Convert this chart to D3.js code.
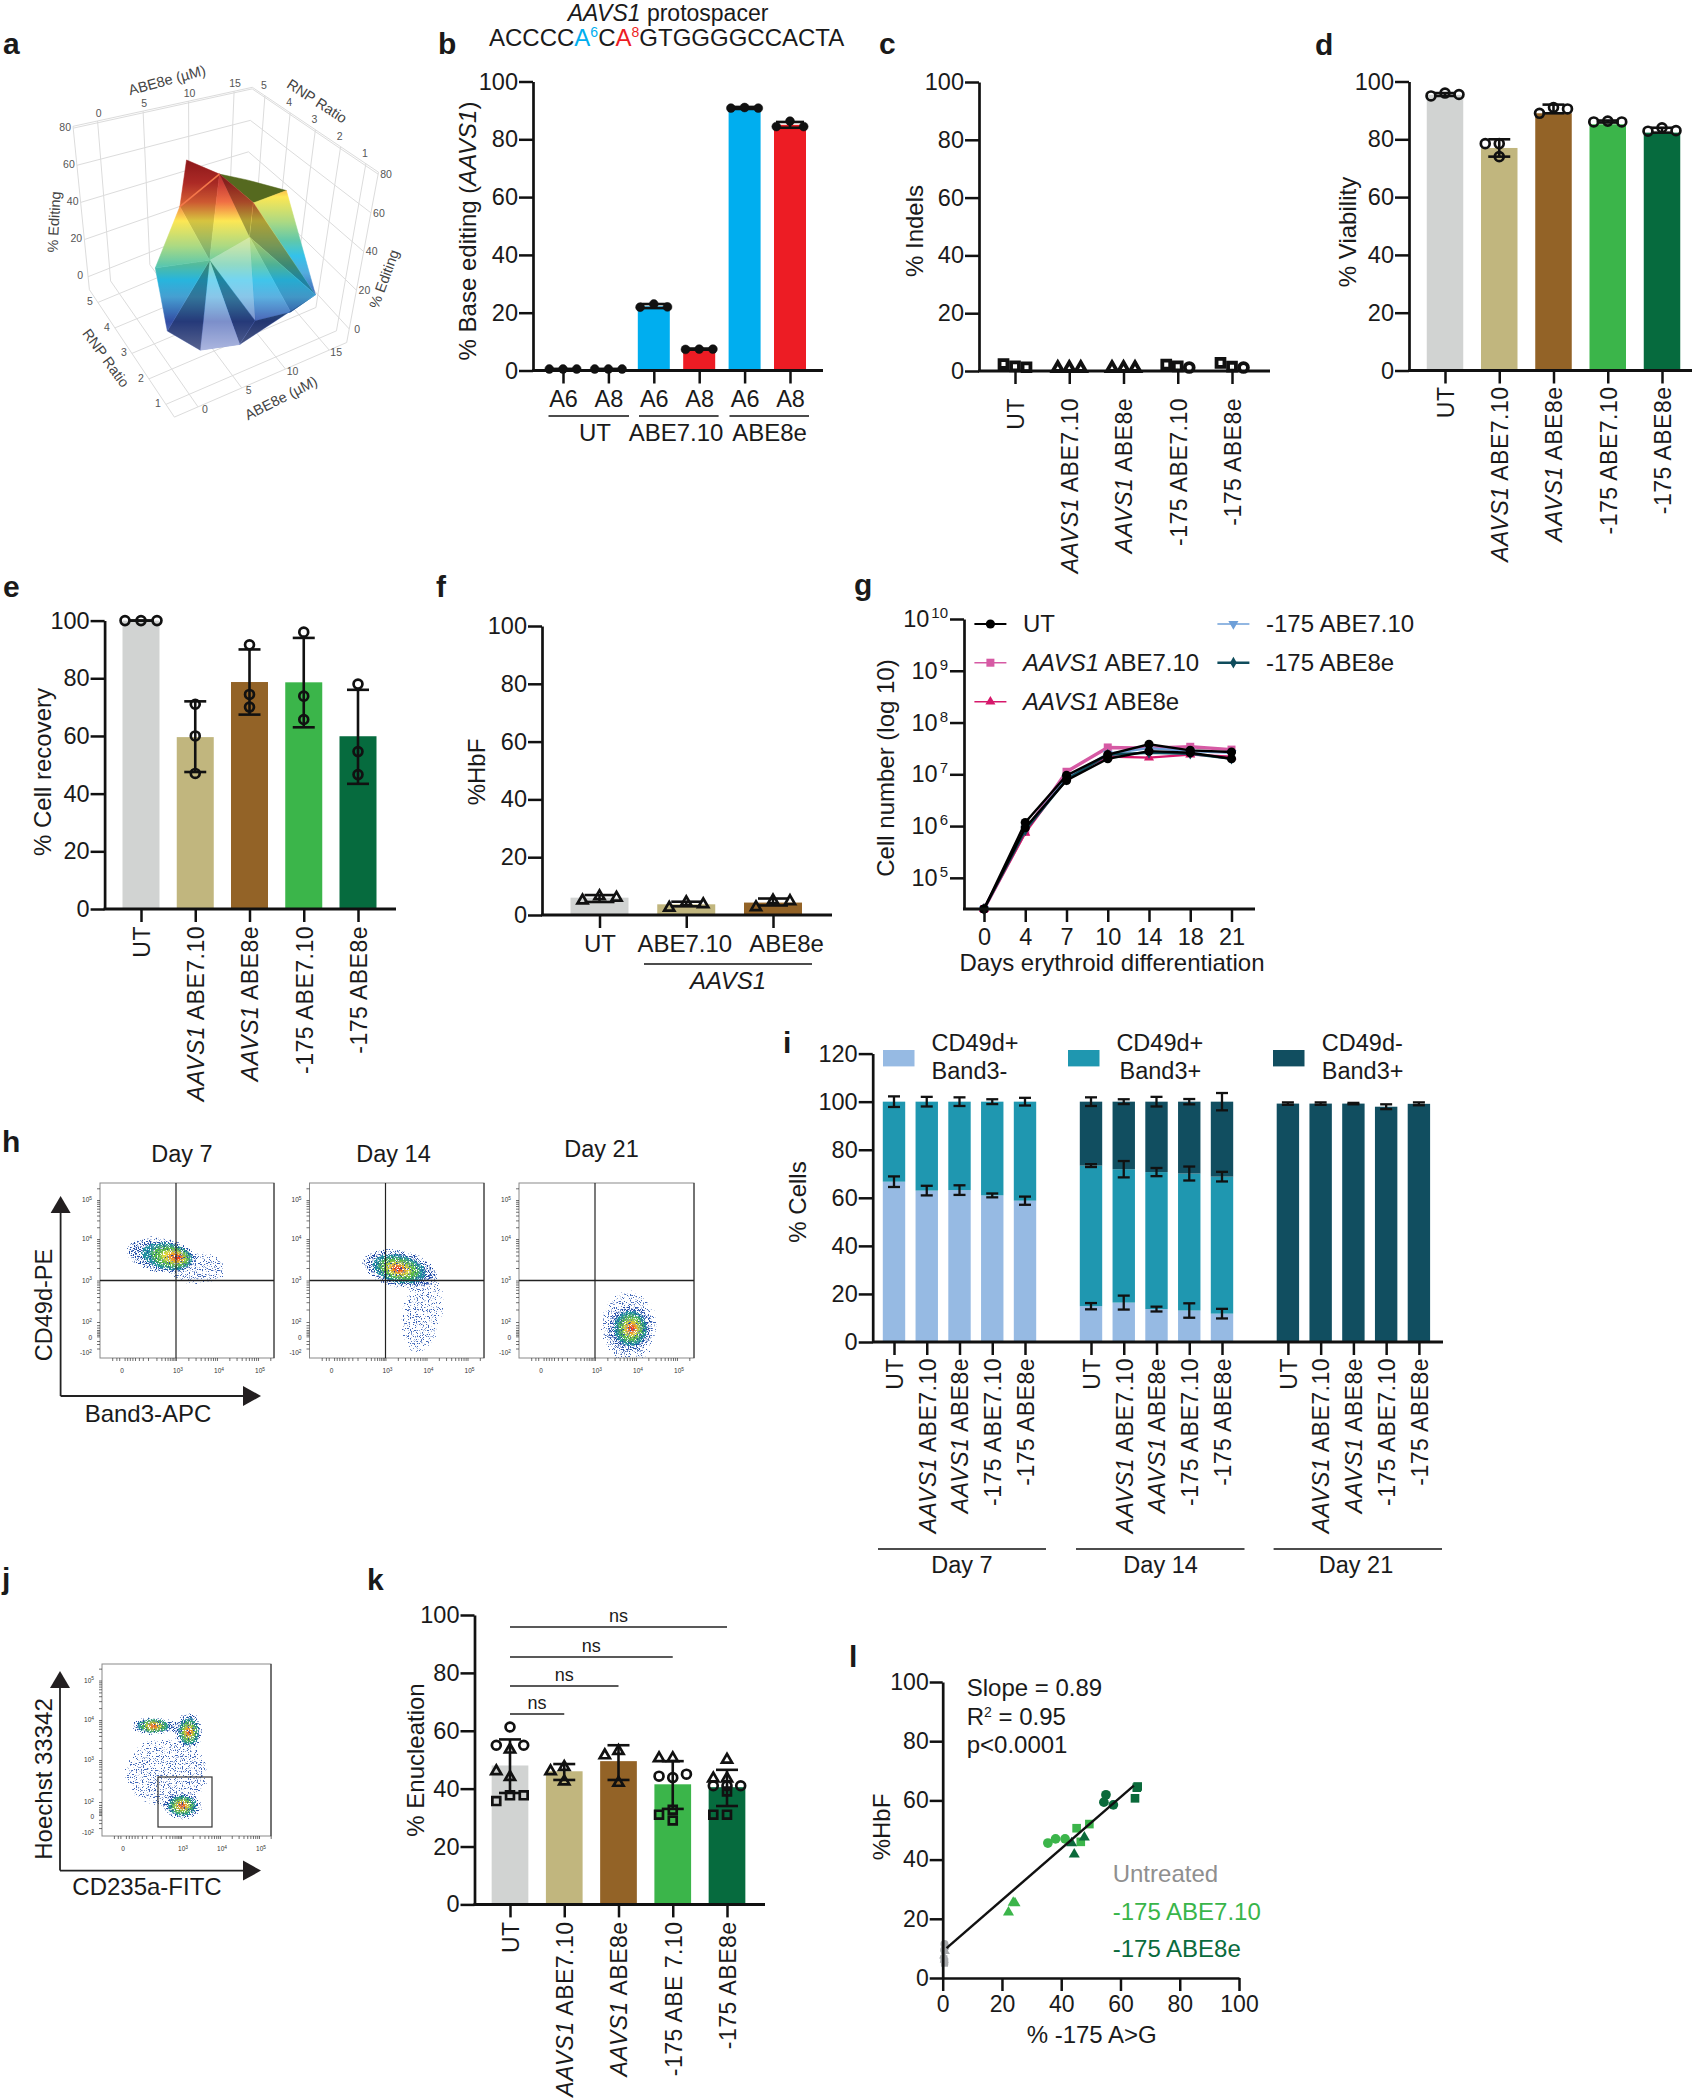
<!DOCTYPE html>
<html>
<head>
<meta charset="utf-8">
<script src="https://cdn.jsdelivr.net/npm/d3@7"></script>
<style>
  body { margin: 0; background: #fff; }
  text { font-family: "Liberation Sans", Arial, sans-serif; fill: #1a1a1a; }
</style>
</head>
<body>
<svg id="fig" width="1701" height="2100"></svg>
<script>
// Shared labels and colours
const groupLabels = ["UT", "AAVS1 ABE7.10", "AAVS1 ABE8e", "-175 ABE7.10", "-175 ABE8e"];
const groupColors = ["#D1D3D2", "#C1B67E", "#936327", "#3BB54A", "#066B3E"];
const pctTicks = [0, 20, 40, 60, 80, 100];

// a: surface vertices
const surfABE = [6.06, 8.38, 10.44, 13.37, 10.42, 4.25, 5.56, 0.7, 0.56, 3.2, 6.75, 13.7, 11.49, 8.4, 9.37];
const surfRNP = [3.99, 3.47, 3.1, 2.55, 2.75, 3.52, 2.62, 3.18, 2.51, 1.94, 1.47, 0.97, 1.12, 1.49, 2.4];
const surfEdit = [68.5, 63.2, 61.1, 56.8, 52.4, 51, 31, 28.2, 4.6, -2.6, -0.4, 18.3, 11.7, 8.4, 39.5];
const surfFaces = [[0,1,5],[1,5,6],[1,6,14],[1,4,14],[4,3,11],[4,11,14],[14,11,12],[14,12,13],[14,13,6],[6,13,10],[6,10,9],[6,9,8],[6,8,7],[5,6,7],[10,13,12,11]];
const surfShade = [-0.12,-0.15,0.05,-0.3,0.05,-0.3,-0.1,0.1,0.35,-0.3,0.35,-0.3,-0.05,0.05,-0.35];
const surfTopFace = [1,2,3,4];
const abeTicks = [0, 5, 10, 15];
const rnpTicks = [1, 2, 3, 4, 5];
const editTicks = [0, 20, 40, 60, 80];

// b
const bLabels = ["A6", "A8", "A6", "A8", "A6", "A8"];
const bMeans = [0.5, 0.5, 22.2, 7.4, 90.8, 85];
const bColors = ["#00AEEF", "#ED1C24", "#00AEEF", "#ED1C24", "#00AEEF", "#ED1C24"];
const bPoints = [[0.5,0.5,0.5],[0.5,0.5,0.5],[23,21.9,22],[7.4,7.3,7.4],[91,90.8,90.8],[86.3,84.4,84.4]];
const bErrLow = [0.5,0.5,21.6,7.2,90.5,84];
const bErrHigh = [0.5,0.5,23,7.6,91.2,86];

// c
const cPoints = [[1.6,2.4,1.3],[1,1,1],[1,1,1],[1.6,2.2,1.2],[1.5,2.8,1.2]];
const cShapes = [["s","s","s"],["t","t","t"],["t","t","t"],["s","s","c"],["s","s","c"]];
const cMeans = [1.7,1,1,1.6,1.7];

// d
const dMeans = [95.4, 77, 89, 85.2, 82.3];
const dPoints = [[96,95,95.5],[74,78.5,78.5],[91,89,90.5],[86.3,86,86],[84,82.8,83]];
const dErrLow = [95,74,89,85.8,82.3];
const dErrHigh = [96,80,92,86.5,84];

// e
const eMeans = [100, 59.6, 78.7, 78.6, 59.9];
const ePoints = [[100,100,100],[71,60,47],[91.6,74.4,70],[96,73.8,65.7],[78,54.6,46.6]];
const eErrLow = [100,47.5,67.4,63,43.4];
const eErrHigh = [100,72,90,94,76];

// f
const fLabels = ["UT", "ABE7.10", "ABE8e"];
const fColors = ["#D1D3D2", "#C1B67E", "#936327"];
const fMeans = [6, 3.7, 4.3];
const fPoints = [[6.5,5,6],[4.4,2.5,3.7],[5,2.7,4.8]];
const fErrLow = [4.5,3,3.3];
const fErrHigh = [6.9,4.6,5.7];

// g
const gDays = ["0", "4", "7", "10", "14", "18", "21"];
const gPink = [2.5e4, 7.9e5, 1.12e7, 3.3e7, 3.2e7, 3.4e7, 3.0e7];
const gCrimson = [2.5e4, 7.4e5, 8.9e6, 2.2e7, 2.1e7, 2.4e7, 2.2e7];
const gBlue = [2.5e4, 8.9e5, 8.3e6, 2.5e7, 3.2e7, 2.8e7, 2.6e7];
const gTeal = [2.5e4, 8.3e5, 7.9e6, 2.4e7, 2.6e7, 2.5e7, 2.0e7];
const gUtHigh = [2.5e4, 1.17e6, 9.5e6, 2.4e7, 3.8e7, 2.9e7, 2.7e7];
const gUtLow = [2.5e4, 9.3e5, 7.6e6, 2.0e7, 2.8e7, 2.6e7, 2.0e7];

// i: stacked cells, three sets of five bars
const iDays = ["Day 7", "Day 14", "Day 21"];
const iKeys = ["neg", "dbl", "pos"];
const iColors = ["#96BAE3", "#1F97B0", "#114E60"];
const iLegendTop = ["CD49d+", "CD49d+", "CD49d-"];
const iLegendBottom = ["Band3-", "Band3+", "Band3+"];
const iNeg = [[66.7,63,63.2,61,58.8],[14.9,16.4,13.7,13.1,11.8],[0,0,0,0,0]];
const iDbl = [[33.3,37,36.8,39,41.2],[58.5,55.5,57,57,57],[0,0,0,0,0]];
const iPos = [[0,0,0,0,0],[26.6,28.1,29.3,29.9,31.2],[99.2,99.2,99.2,97.9,99.1]];
const iErrNeg = [[2.2,2,2,0.8,1.7],[1.3,2.9,1,3,2],[0,0,0,0,0]];
const iErrDbl = [[2.2,2,1.8,1,1.6],[0.6,3.4,1.7,2.9,2],[0,0,0,0,0]];
const iErrPos = [[0,0,0,0,0],[1.8,1,2,1.1,3.6],[0.5,0.5,0.3,1,0.6]];

// h, j: flow plots. Cells are summarised as clouds: x, y, spread x, spread y (decades),
// tilt, densest x, densest y, and 0 for a thin cloud or 1 for a dense one
const flowLevels = [1, 0.7, 0.5, 0.32, 0.2, 0.1];
const flowColors = ["#1f4aa6", "#1f8fa0", "#55b848", "#e6da3a", "#f28a22", "#e8231c"];
const day7Clouds = [[3.5, 3.3, 0.85, 0.5, 0, 3.5, 3.3, 0], [2.5, 3.6, 0.95, 0.5, 10, 3.1, 3.55, 1]];
const day14Clouds = [[3.9, 2.25, 0.6, 1.15, 10, 3.9, 2.25, 0], [3.35, 3.28, 1.0, 0.52, 12, 3.3, 3.28, 1]];
const day21Clouds = [[3.82, 1.4, 0.8, 1, 0, 3.82, 1.4, 0], [3.85, 1.2, 0.62, 0.66, 0, 3.9, 1.2, 1]];
const jClouds = [[2.5, 2.7, 1.2, 1, 0, 2.5, 2.7, 0], [2.05, 3.85, 0.65, 0.3, 0, 2.05, 3.85, 1], [3.2, 3.72, 0.42, 0.55, 0, 3.2, 3.7, 1], [3.03, 1.5, 0.58, 0.42, 0, 3.03, 1.5, 1]];
const flowDecades = [-1, 0, 2, 3, 4, 5];

// k
const kLabels = ["UT", "AAVS1 ABE7.10", "AAVS1 ABE8e", "-175 ABE 7.10", "-175 ABE8e"];
const kMeans = [48, 46, 49.5, 41.5, 40.5];
const kPoints = [
  [53.5,55,55,61.3,44,46,37.7,35.7,37.7],
  [42.5,47.5,46],
  [42,53,51.5],
  [43.8,44.3,45,50.5,50.5,32.7,29,31],
  [50,41,41,41,43.5,43.5,39,31,31]
];
const kShapes = [
  ["t","c","c","c","t","t","s","s","s"],
  ["t","t","t"],
  ["t","t","t"],
  ["c","c","c","t","t","s","s","s"],
  ["t","c","c","c","t","t","s","s","s"]
];
const kErrLow = [38.5,43,43,33,34];
const kErrHigh = [57,48.5,55,49.5,46.5];
const kBrackets = [[0,1],[0,2],[0,3],[0,4]];

// l
const lUntreatedX = [0.6,0.9,0.5,0.4,0.7,0.6,0.9,0.3,0.5];
const lUntreatedY = [11.5,10.5,9.5,6.5,5.5,5,9,7.5,6];
const l710X = [35.5,38.1,41.3,45.2,49.5,46.6,22.2,23.8,24.4];
const l710Y = [45.6,47,47,50.6,52,46,22.2,25.5,25.3];
const l8eX = [55.1,54.4,57.6,65.8,65.5,64.9,43.5,44.4,47.8];
const l8eY = [61.9,59.4,58.5,64.7,64.3,60.7,45.6,41.8,47.5];
const lShapes = ["c","c","c","s","s","s","t","t","t"];
const lFitX = [1.3, 64.5];
const lFitY = [10.1, 65];

const svg = d3.select("#fig");
const axisColor = "#111";
const symbolOf = { c: d3.symbolCircle, s: d3.symbolSquare, t: d3.symbolTriangle };
const sizeOf = { c: 62, s: 62, t: 44 };

function letter(t, x, y) {
  svg.append("text").attr("x", x).attr("y", y).attr("font-size", 30).attr("font-weight", "bold").text(t);
}

// Writes a label with AAVS1 in italics
function fillLabel(sel, label) {
  sel.text(null);
  if (label.startsWith("AAVS1")) {
    sel.append("tspan").attr("font-style", "italic").text("AAVS1");
    sel.append("tspan").text(label.slice(5));
  } else {
    sel.text(label);
  }
}

function yTitle(parts, x, y, size) {
  let t = svg.append("text").attr("transform", "translate(" + x + "," + y + ") rotate(-90)")
    .attr("text-anchor", "middle").attr("font-size", size || 24);
  parts.forEach(p => {
    t.append("tspan").attr("font-style", p[1] ? "italic" : "normal").text(p[0]);
  });
}

function styleAxis(g, size) {
  g.selectAll("path.domain").attr("stroke", axisColor).attr("stroke-width", 2.7);
  g.selectAll(".tick line").attr("stroke", axisColor).attr("stroke-width", 2.5);
  g.selectAll("text").attr("font-family", "Liberation Sans").attr("font-size", size || 23.5);
}

function yAxis(y, left, ticks) {
  let g = svg.append("g").attr("transform", "translate(" + left + ",0)")
    .call(d3.axisLeft(y).tickValues(ticks).tickSize(14).tickSizeOuter(0).tickPadding(1));
  styleAxis(g);
  return g;
}

// x axis: line from the y axis to xEnd, one tick per category
function xAxis(x, bottom, left, xEnd) {
  let g = svg.append("g").attr("transform", "translate(0," + bottom + ")")
    .call(d3.axisBottom(x).tickSize(13).tickSizeOuter(0));
  g.select("path.domain").remove();
  g.append("line").attr("x1", left - 1).attr("x2", xEnd).attr("stroke", axisColor).attr("stroke-width", 3);
  styleAxis(g);
  return g;
}

function rotatedLabels(g, labels, gap) {
  g.selectAll(".tick text").each(function (d, i) {
    let t = d3.select(this);
    fillLabel(t, labels[i]);
    t.attr("font-size", 23).attr("transform", "rotate(-90)").attr("text-anchor", "end")
      .attr("x", -gap).attr("y", 0).attr("dy", "0.36em").attr("letter-spacing", 0.5);
  });
}

function swarm(vals, y, step, gap) {
  let placed = [];
  return vals.map(v => {
    let py = y(v);
    let off = [0, -step, step, -2 * step, 2 * step].find(o =>
      !placed.some(p => Math.abs(p.o - o) < step * 0.9 && Math.abs(p.y - py) < gap));
    placed.push({ o: off, y: py });
    return off;
  });
}

function errorBars(g, x, y, lows, highs, cap, width) {
  lows.forEach((lo, i) => {
    let cx = x(i);
    g.append("line").attr("x1", cx).attr("x2", cx).attr("y1", y(lo)).attr("y2", y(highs[i]));
    g.append("line").attr("x1", cx - cap).attr("x2", cx + cap).attr("y1", y(lo)).attr("y2", y(lo));
    g.append("line").attr("x1", cx - cap).attr("x2", cx + cap).attr("y1", y(highs[i])).attr("y2", y(highs[i]));
  });
  g.attr("stroke", "#111").attr("stroke-width", width || 2.6);
}

function barPanel(o) {
  let y = d3.scaleLinear().domain([0, 100]).range([o.bottom, o.top]);
  let x = d3.scalePoint().domain(d3.range(o.means.length)).range([o.first, o.last]);
  svg.append("g").selectAll("rect").data(o.means).join("rect")
    .attr("x", (d, i) => x(i) - o.barW / 2).attr("width", o.barW)
    .attr("y", d => y(d)).attr("height", d => y(0) - y(d))
    .attr("fill", (d, i) => o.colors[i]);
  if (o.errLow) errorBars(svg.append("g"), x, y, o.errLow, o.errHigh, o.cap || 11);
  let marks = svg.append("g");
  o.points.forEach((vals, i) => {
    let gap = o.gaps ? o.gaps[i] : (o.gap || 9);
    let offs = swarm(vals, y, o.step, gap);
    vals.forEach((v, j) => {
      let shape = o.shapes ? o.shapes[i][j] : "c";
      marks.append("path")
        .attr("d", d3.symbol().type(symbolOf[shape]).size(sizeOf[shape]))
        .attr("transform", "translate(" + (x(i) + offs[j]) + "," + y(v) + ")")
        .attr("fill", o.solid ? "#111" : "none")
        .attr("stroke", "#111").attr("stroke-width", o.solid ? 0.5 : (o.markStroke || 2.7));
    });
  });
  yAxis(y, o.left, pctTicks);
  let g = xAxis(x, o.bottom, o.left, o.xEnd);
  return { x, y, g };
}

// ---------- a: 3D surface ----------
const normABE = d3.scaleLinear().domain([-2.7, 17]).range([0, 1]);
const normRNP = d3.scaleLinear().domain([0.5, 5.5]).range([0, 1]);
const normEdit = d3.scaleLinear().domain([-7, 81]).range([0, 1]);
// screen corners of the plot box
const boxFloor = [[174.4, 417.1], [346.7, 342.5], [89.4, 289.7], [244.1, 225.8]];
const boxRoof = [[173.9, 225.8], [378.5, 172.2], [73, 126.3], [252.3, 87.3]];

function project(a, r, z) {
  let u = normABE(a), v = normRNP(r), w = normEdit(z);
  let bi = c => [0, 1].map(k =>
    (1 - v) * ((1 - u) * c[0][k] + u * c[1][k]) + v * ((1 - u) * c[2][k] + u * c[3][k]));
  let lo = bi(boxFloor), hi = bi(boxRoof);
  return [lo[0] + (hi[0] - lo[0]) * w, lo[1] + (hi[1] - lo[1]) * w];
}

(function drawSurface() {
  let g = svg.append("g");
  let line = d3.line();
  let grid = (a1, r1, z1, a2, r2, z2) => g.append("path")
    .attr("d", line([project(a1, r1, z1), project(a2, r2, z2)]))
    .attr("stroke", "#dcdcdc").attr("stroke-width", 1).attr("fill", "none");
  let aLo = -2.7, aHi = 17, rLo = 0.5, rHi = 5.5, zLo = -7, zHi = 81;
  abeTicks.forEach(a => { grid(a, rLo, zLo, a, rHi, zLo); grid(a, rHi, zLo, a, rHi, zHi); });
  rnpTicks.forEach(r => { grid(aLo, r, zLo, aHi, r, zLo); grid(aHi, r, zLo, aHi, r, zHi); });
  editTicks.forEach(z => { grid(aLo, rHi, z, aHi, rHi, z); grid(aHi, rHi, z, aHi, rLo, z); });
  grid(aLo, rLo, zLo, aHi, rLo, zLo); grid(aHi, rLo, zLo, aHi, rLo, zHi);
  grid(aLo, rLo, zLo, aLo, rHi, zLo); grid(aLo, rHi, zLo, aLo, rHi, zHi);
  grid(aLo, rHi, zHi, aHi, rHi, zHi); grid(aHi, rHi, zHi, aHi, rLo, zHi);

  let verts = surfABE.map((a, i) => project(a, surfRNP[i], surfEdit[i]));
  let ys = verts.map(p => p[1]);
  let stops = [[0, "#a01b1e"], [0.12, "#c4302b"], [0.22, "#f0683a"], [0.32, "#fde64b"], [0.45, "#a9d87c"],
    [0.55, "#58c6a6"], [0.63, "#2abfe9"], [0.72, "#4aa8dd"], [0.85, "#3653ae"], [1, "#7f8fce"]];
  let defs = svg.append("defs");
  // second gradient is shifted up: the right face is lower on the colour map than its screen height
  [["surfGrad", 0], ["surfGradRight", -24]].forEach(d => {
    let grad = defs.append("linearGradient").attr("id", d[0])
      .attr("gradientUnits", "userSpaceOnUse").attr("x1", 0).attr("x2", 0)
      .attr("y1", d3.min(ys) + d[1]).attr("y2", d3.max(ys) + d[1]);
    stops.forEach(s => grad.append("stop").attr("offset", s[0]).attr("stop-color", s[1]));
  });

  let facePath = idx => line(idx.map(i => verts[i])) + "Z";
  g.append("path").attr("d", facePath(surfTopFace)).attr("fill", "#55691f").attr("stroke", "#55691f").attr("stroke-width", 0.5);
  surfFaces.forEach((f, i) => {
    let fillRef = i == 4 ? "url(#surfGradRight)" : "url(#surfGrad)";
    g.append("path").attr("d", facePath(f)).attr("fill", fillRef).attr("stroke", fillRef).attr("stroke-width", 0.5);
    let s = surfShade[i];
    g.append("path").attr("d", facePath(f)).attr("fill", s < 0 ? "#000" : "#fff").attr("opacity", Math.abs(s));
  });
  g.append("path").attr("d", line([verts[1], verts[5]])).attr("stroke", "#f4774a").attr("stroke-width", 1.6);

  let tickText = (p, dx, dy, t) => svg.append("text").attr("x", p[0] + dx).attr("y", p[1] + dy)
    .attr("text-anchor", "middle").attr("dy", "0.35em").attr("font-size", 10.5).attr("style", "fill:#555").text(t);
  abeTicks.forEach(a => {
    tickText(project(a, rLo, zLo), 7, 2, a);
    tickText(project(a, rHi, zHi), 1, -8, a);
  });
  rnpTicks.forEach(r => {
    tickText(project(aLo, r, zLo), -8, -1, r);
    tickText(project(aHi, r, zHi), -1, -10, r);
  });
  editTicks.forEach(z => {
    tickText(project(aLo, rHi, z), -8, -1, z);
    tickText(project(aHi, rLo, z), 8, 0, z);
  });
  let axisText = (t, x, y, rot) => svg.append("text").attr("transform", "translate(" + x + "," + y + ") rotate(" + rot + ")")
    .attr("text-anchor", "middle").attr("dy", "0.35em").attr("font-size", 14.5).attr("style", "fill:#444").text(t);
  axisText("ABE8e (µM)", 167, 80, -15);
  axisText("RNP Ratio", 317, 101, 33);
  axisText("% Editing", 54, 222, -87);
  axisText("% Editing", 384, 279, -70);
  axisText("RNP Ratio", 106, 358, 54);
  axisText("ABE8e (µM)", 281, 398, -27);
})();

// ---------- b ----------
(function drawB() {
  let head = svg.append("text").attr("x", 668).attr("y", 21).attr("text-anchor", "middle").attr("font-size", 23);
  head.append("tspan").attr("font-style", "italic").text("AAVS1");
  head.append("tspan").text(" protospacer");
  let seq = svg.append("text").attr("x", 489).attr("y", 46).attr("font-size", 24);
  seq.append("tspan").text("ACCCC");
  seq.append("tspan").attr("style", "fill:#00AEEF").text("A");
  seq.append("tspan").attr("style", "fill:#00AEEF").attr("font-size", 14).attr("dy", -9).text("6");
  seq.append("tspan").attr("dy", 9).text("C");
  seq.append("tspan").attr("style", "fill:#ED1C24").text("A");
  seq.append("tspan").attr("style", "fill:#ED1C24").attr("font-size", 14).attr("dy", -9).text("8");
  seq.append("tspan").attr("dy", 9).text("GTGGGGCCACTA");

  let p = barPanel({ means: bMeans, colors: bColors, points: bPoints, errLow: bErrLow, errHigh: bErrHigh, solid: true,
    left: 533, top: 81.5, bottom: 370.5, first: 563, last: 790, xEnd: 823, barW: 32, step: 13.7, cap: 14 });
  p.g.selectAll(".tick text").each(function (d, i) { d3.select(this).text(bLabels[i]).attr("y", 20); });
  yTitle([["% Base editing ("], ["AAVS1", true], [")"]], 476, 231);
  let spans = [[548.5, 629, "UT", 595], [639, 718.6, "ABE7.10", 676], [729.5, 809, "ABE8e", 769.6]];
  spans.forEach(s => {
    svg.append("line").attr("x1", s[0]).attr("x2", s[1]).attr("y1", 416).attr("y2", 416).attr("stroke", "#111").attr("stroke-width", 1.6);
    svg.append("text").attr("x", s[3]).attr("y", 441).attr("text-anchor", "middle").attr("font-size", 24).text(s[2]);
  });
})();

// ---------- c, d, e ----------
(function drawCDE() {
  let c = barPanel({ means: cMeans, colors: groupColors, points: cPoints, shapes: cShapes, markStroke: 3.8,
    left: 979, top: 82, bottom: 371, first: 1015, last: 1232, xEnd: 1270, barW: 0.1, step: 11.5 });
  rotatedLabels(c.g, groupLabels, 27);
  yTitle([["% Indels"]], 923, 231);

  let d = barPanel({ means: dMeans, colors: groupColors, points: dPoints, errLow: dErrLow, errHigh: dErrHigh,
    left: 1409, top: 81.5, bottom: 370.5, first: 1445, last: 1662, xEnd: 1692, barW: 36.5, step: 14 });
  rotatedLabels(d.g, groupLabels, 16);
  yTitle([["% Viability"]], 1356, 232);

  let e = barPanel({ means: eMeans, colors: groupColors, points: ePoints, errLow: eErrLow, errHigh: eErrHigh,
    left: 104.6, top: 620.6, bottom: 909, first: 141, last: 358, xEnd: 396, barW: 37, step: 16 });
  rotatedLabels(e.g, groupLabels, 17);
  yTitle([["% Cell recovery"]], 51, 772);
})();

// ---------- f ----------
(function drawF() {
  let p = barPanel({ means: fMeans, colors: fColors, points: fPoints, shapes: [["t","t","t"],["t","t","t"],["t","t","t"]],
    errLow: fErrLow, errHigh: fErrHigh, left: 542, top: 626, bottom: 915, first: 599.5, last: 773, xEnd: 832, barW: 58, step: 17, gap: 14, cap: 15 });
  p.g.selectAll(".tick text").each(function (d, i) { d3.select(this).text(fLabels[i]).attr("y", 20).attr("font-size", 24); });
  p.g.selectAll(".tick text").filter((d, i) => i == 1).attr("dx", -2);
  p.g.selectAll(".tick text").filter((d, i) => i == 2).attr("dx", 13);
  yTitle([["%HbF"]], 485, 772);
  svg.append("line").attr("x1", 644).attr("x2", 812).attr("y1", 964).attr("y2", 964).attr("stroke", "#111").attr("stroke-width", 1.6);
  svg.append("text").attr("x", 728).attr("y", 989).attr("text-anchor", "middle").attr("font-size", 24).attr("font-style", "italic").text("AAVS1");
})();

// ---------- g ----------
(function drawG() {
  let x = d3.scalePoint().domain(gDays).range([984, 1231.5]);
  let y = d3.scaleLog().domain([2.5e4, 1e10]).range([909, 619]);
  let line = d3.line().x((d, i) => x(gDays[i])).y(d => y(d));
  let series = [
    [gPink, "#D65AA4", "s", 3.4],
    [gCrimson, "#D6186B", "t", 2.4],
    [gBlue, "#6E9FD8", "v", 2.4],
    [gTeal, "#0F4C5C", "d", 2.6],
    [gUtLow, "#000", "c", 2.4],
    [gUtHigh, "#000", "c", 2.4]
  ];
  let markerPath = k => {
    if (k == "s") return d3.symbol().type(d3.symbolSquare).size(64)();
    if (k == "t") return d3.symbol().type(d3.symbolTriangle).size(44)();
    if (k == "d") return d3.symbol().type(d3.symbolDiamond).size(40)();
    if (k == "v") return d3.symbol().type(d3.symbolTriangle).size(44)();
    return d3.symbol().type(d3.symbolCircle).size(66)();
  };
  series.forEach(s => {
    svg.append("path").attr("d", line(s[0])).attr("fill", "none").attr("stroke", s[1]).attr("stroke-width", s[3]);
    s[0].forEach((v, i) => {
      svg.append("path").attr("d", markerPath(s[2]))
        .attr("transform", "translate(" + x(gDays[i]) + "," + y(v) + ")" + (s[2] == "v" ? " rotate(180)" : ""))
        .attr("fill", s[1]);
    });
  });
  let ya = svg.append("g").attr("transform", "translate(964,0)")
    .call(d3.axisLeft(y).tickValues([1e5, 1e6, 1e7, 1e8, 1e9, 1e10]).tickSize(14).tickSizeOuter(0).tickPadding(1).tickFormat(""));
  styleAxis(ya);
  [5, 6, 7, 8, 9, 10].forEach(p => {
    let t = svg.append("text").attr("x", 948).attr("y", y(Math.pow(10, p)) + 8).attr("text-anchor", "end").attr("font-size", 23.5);
    t.append("tspan").text("10");
    t.append("tspan").attr("font-size", 15).attr("dx", 2).attr("dy", -9).text(p);
  });
  let xa = xAxis(x, 909, 964, 1255);
  xa.selectAll(".tick text").attr("y", 19).attr("font-size", 23.5);
  yTitle([["Cell number (log 10)"]], 894, 768, 24);
  svg.append("text").attr("x", 1112).attr("y", 970.6).attr("text-anchor", "middle").attr("font-size", 24).text("Days erythroid differentiation");

  let legend = [
    [974.4, 624, "#000", "c", "UT", 2, 1023],
    [974.4, 662.7, "#D65AA4", "s", "AAVS1 ABE7.10", 1.6, 1023],
    [974.4, 701.7, "#D6186B", "t", "AAVS1 ABE8e", 1.6, 1023],
    [1217.4, 624, "#6E9FD8", "v", "-175 ABE7.10", 1.6, 1266],
    [1217.4, 662.7, "#0F4C5C", "d", "-175 ABE8e", 2.4, 1266]
  ];
  legend.forEach(l => {
    svg.append("line").attr("x1", l[0]).attr("x2", l[0] + 32).attr("y1", l[1]).attr("y2", l[1]).attr("stroke", l[2]).attr("stroke-width", l[5]);
    svg.append("path").attr("d", markerPath(l[3])).attr("fill", l[2])
      .attr("transform", "translate(" + (l[0] + 16) + "," + l[1] + ")" + (l[3] == "v" ? " rotate(180)" : ""));
    let t = svg.append("text").attr("x", l[6]).attr("y", l[1] + 8).attr("font-size", 24);
    fillLabel(t, l[4]);
  });
})();

// ---------- h, j: flow plots ----------
// Grainy filters: the more a cloud is blurred away, the fewer grains survive
function addSpeckle(id, blur, slope, intercept, seed) {
  let f = svg.select("defs").append("filter").attr("id", id)
    .attr("x", "-40%").attr("y", "-40%").attr("width", "180%").attr("height", "180%")
    .attr("color-interpolation-filters", "sRGB");
  f.append("feGaussianBlur").attr("in", "SourceGraphic").attr("stdDeviation", blur).attr("result", "soft");
  f.append("feTurbulence").attr("type", "fractalNoise").attr("baseFrequency", 0.85).attr("numOctaves", 1).attr("seed", seed).attr("result", "noise");
  f.append("feColorMatrix").attr("in", "noise").attr("type", "matrix")
    .attr("values", "0 0 0 0 0  0 0 0 0 0  0 0 0 0 0  1 0 0 0 0").attr("result", "grain");
  // the colour channels have to come from the blurred cloud, so keep them with "in"
  f.append("feComposite").attr("in", "soft").attr("in2", "grain").attr("operator", "in").attr("result", "mix");
  f.append("feComponentTransfer").attr("in", "mix").append("feFuncA").attr("type", "linear").attr("slope", slope).attr("intercept", intercept);
}
addSpeckle("speckleCore", 1.6, 10, -3.9, 4);
addSpeckle("speckleOuter", 3.4, 10, -4.9, 7);
addSpeckle("specklePale", 4, 12, -6.8, 11);

function flowPlot(o) {
  let w = o.right - o.left, h = o.bottom - o.top;
  let x = d3.scaleLinear().domain(flowDecades).range(o.xStops);
  let y = d3.scaleLinear().domain(flowDecades).range(o.yStops);
  let clip = "clip" + o.left + "_" + o.top;
  svg.select("defs").append("clipPath").attr("id", clip).append("rect")
    .attr("x", o.left).attr("y", o.top).attr("width", w).attr("height", h);
  let holder = svg.append("g").attr("clip-path", "url(#" + clip + ")");
  let pale = holder.append("g").attr("filter", "url(#specklePale)");
  let outer = holder.append("g").attr("filter", "url(#speckleOuter)");
  let core = holder.append("g").attr("filter", "url(#speckleCore)");
  let pxPerDec = x(4) - x(3);
  o.clouds.forEach(c => {
    flowLevels.forEach((f, k) => {
      if (c[7] == 0 && k > 0) return;
      let cx = x(c[5] + (c[0] - c[5]) * f), cy = y(c[6] + (c[1] - c[6]) * f);
      let parent = c[7] == 0 ? pale : (k == 0 ? outer : core);
      parent.append("ellipse").attr("cx", cx).attr("cy", cy)
        .attr("rx", pxPerDec * c[2] * f).attr("ry", pxPerDec * c[3] * f)
        .attr("transform", "rotate(" + c[4] + " " + cx + " " + cy + ")")
        .attr("fill", c[7] == 0 ? "#3f66b8" : flowColors[k]);
    });
  });
  svg.append("rect").attr("x", o.left).attr("y", o.top).attr("width", w).attr("height", h)
    .attr("fill", "none").attr("stroke", "#8a8a8a").attr("stroke-width", 1);
  svg.append("line").attr("x1", o.right).attr("x2", o.right).attr("y1", o.top).attr("y2", o.bottom).attr("stroke", "#222").attr("stroke-width", 1);

  let minor = [-0.7, -0.4, -0.2, 0.2, 0.4, 0.6, 0.8, 1, 1.3, 1.6];
  d3.range(2, 5).forEach(dec => d3.range(1, 10).forEach(m => minor.push(dec + Math.log10(m))));
  minor.push(5, 5.3);
  let xa = svg.append("g").attr("transform", "translate(0," + o.bottom + ")")
    .call(d3.axisBottom(x).tickValues(minor).tickSize(3).tickSizeOuter(0).tickFormat(""));
  let ya = svg.append("g").attr("transform", "translate(" + o.left + ",0)")
    .call(d3.axisLeft(y).tickValues(minor).tickSize(3).tickSizeOuter(0).tickFormat(""));
  [xa, ya].forEach(g => {
    g.select("path.domain").remove();
    g.selectAll(".tick line").attr("stroke", "#333").attr("stroke-width", 0.7);
  });
  let tiny = (tx, ty, anchor, sup, base) => {
    let t = svg.append("text").attr("x", tx).attr("y", ty).attr("text-anchor", anchor).attr("font-size", 6.5).attr("style", "fill:#333");
    t.append("tspan").text(base);
    if (sup) t.append("tspan").attr("font-size", 4.8).attr("dy", -2.5).text(sup);
  };
  [[0, "", "0"], [3, "3", "10"], [4, "4", "10"], [5, "5", "10"]].forEach(d =>
    tiny(x(d[0]) + (d[0] == 0 ? 0 : 2), o.bottom + 15, "middle", d[1], d[2]));
  [[5, "5", "10"], [4, "4", "10"], [3, "3", "10"], [2, "2", "10"], [0, "", "0"], [-1, "2", "-10"]].forEach(d =>
    tiny(o.left - 8, y(d[0]) + 2, "end", d[1], d[2]));
  if (o.quad) {
    svg.append("line").attr("x1", x(3)).attr("x2", x(3)).attr("y1", o.top).attr("y2", o.bottom).attr("stroke", "#222").attr("stroke-width", 1.2);
    svg.append("line").attr("x1", o.left).attr("x2", o.right).attr("y1", y(3)).attr("y2", y(3)).attr("stroke", "#222").attr("stroke-width", 1.6);
  }
  if (o.gate) {
    svg.append("rect").attr("x", o.gate[0]).attr("y", o.gate[1]).attr("width", o.gate[2]).attr("height", o.gate[3])
      .attr("fill", "none").attr("stroke", "#333").attr("stroke-width", 1.2);
  }
}

function flowArrows(xLine, yTip, yEnd, xTip) {
  let g = svg.append("g");
  g.append("line").attr("x1", xLine).attr("x2", xLine).attr("y1", yTip + 14).attr("y2", yEnd).attr("stroke", "#222").attr("stroke-width", 1.8);
  g.append("line").attr("x1", xLine).attr("x2", xTip - 16).attr("y1", yEnd).attr("y2", yEnd).attr("stroke", "#222").attr("stroke-width", 1.8);
  g.append("path").attr("d", d3.line()([[xLine, yTip], [xLine - 10, yTip + 17], [xLine + 10, yTip + 17]]) + "Z").attr("fill", "#231f20");
  g.append("path").attr("d", d3.line()([[xTip, yEnd], [xTip - 18, yEnd - 10], [xTip - 18, yEnd + 10]]) + "Z").attr("fill", "#231f20");
}

(function drawFlow() {
  let yStops = [1353, 1338, 1322, 1280.5, 1239, 1200];
  flowPlot({ left: 100, right: 274, top: 1183, bottom: 1358, xStops: [108, 122, 148, 176, 217, 258], yStops, clouds: day7Clouds, quad: true });
  flowPlot({ left: 309.5, right: 484, top: 1183, bottom: 1358, xStops: [317.5, 331.5, 357.5, 385.5, 426.5, 467.5], yStops, clouds: day14Clouds, quad: true });
  flowPlot({ left: 519, right: 694, top: 1183, bottom: 1358, xStops: [527, 541, 567, 595, 636, 677], yStops, clouds: day21Clouds, quad: true });
  [["Day 7", 182, 1161.7], ["Day 14", 393.5, 1161.7], ["Day 21", 601.5, 1156.7]].forEach(d =>
    svg.append("text").attr("x", d[1]).attr("y", d[2]).attr("text-anchor", "middle").attr("font-size", 23.5).text(d[0]));
  flowArrows(60.6, 1196, 1396, 261);
  yTitle([["CD49d-PE"]], 52, 1305, 23.5);
  svg.append("text").attr("x", 148).attr("y", 1421.7).attr("text-anchor", "middle").attr("font-size", 24).text("Band3-APC");

  flowPlot({ left: 102, right: 271, top: 1664, bottom: 1836, xStops: [110, 123, 152, 181, 220, 259], yStops: [1833, 1816.5, 1802, 1760, 1720, 1680.5], clouds: jClouds, gate: [158, 1777, 54, 50] });
  flowArrows(60, 1671, 1870.6, 261);
  yTitle([["Hoechst 33342"]], 52, 1779, 24);
  svg.append("text").attr("x", 147).attr("y", 1895).attr("text-anchor", "middle").attr("font-size", 24).text("CD235a-FITC");
})();

// ---------- i: stacked bars ----------
(function drawI() {
  let y = d3.scaleLinear().domain([0, 120]).range([1342, 1053.6]);
  let firstX = [894, 1091, 1287.9];
  let stack = d3.stack().keys(iKeys);
  iDays.forEach((day, di) => {
    let x = d3.scalePoint().domain(d3.range(5)).range([firstX[di], firstX[di] + 131]);
    let rows = d3.range(5).map(i => ({ neg: iNeg[di][i], dbl: iDbl[di][i], pos: iPos[di][i] }));
    let layers = stack(rows);
    layers.forEach((layer, li) => {
      svg.append("g").selectAll("rect").data(layer).join("rect")
        .attr("x", (d, i) => x(i) - 11.2).attr("width", 22.4)
        .attr("y", d => y(d[1])).attr("height", d => y(d[0]) - y(d[1]))
        .attr("fill", iColors[li]);
    });
    [iErrNeg, iErrDbl, iErrPos].forEach((errs, li) => {
      let g = svg.append("g").attr("stroke", "#111").attr("stroke-width", 2.3);
      layers[li].forEach((d, i) => {
        let e = errs[di][i];
        if (!e) return;
        let cx = x(i);
        g.append("line").attr("x1", cx).attr("x2", cx).attr("y1", y(d[1] - e)).attr("y2", y(d[1] + e));
        g.append("line").attr("x1", cx - 6).attr("x2", cx + 6).attr("y1", y(d[1] - e)).attr("y2", y(d[1] - e));
        g.append("line").attr("x1", cx - 6).attr("x2", cx + 6).attr("y1", y(d[1] + e)).attr("y2", y(d[1] + e));
      });
    });
    let xg = svg.append("g").attr("transform", "translate(0,1342)")
      .call(d3.axisBottom(x).tickSize(13).tickSizeOuter(0));
    xg.select("path.domain").remove();
    styleAxis(xg);
    rotatedLabels(xg, groupLabels, 16);
  });
  svg.append("line").attr("x1", 872).attr("x2", 1443).attr("y1", 1342).attr("y2", 1342).attr("stroke", axisColor).attr("stroke-width", 3);
  let ya = svg.append("g").attr("transform", "translate(872.7,0)")
    .call(d3.axisLeft(y).tickValues([0, 20, 40, 60, 80, 100, 120]).tickSize(14).tickSizeOuter(0).tickPadding(1));
  styleAxis(ya);
  yTitle([["% Cells"]], 806, 1202);

  [[883, 931.6, 931.6], [1068, 1116.4, 1119.5], [1273, 1321.8, 1321.8]].forEach((l, i) => {
    svg.append("rect").attr("x", l[0]).attr("y", 1050).attr("width", 31.5).attr("height", 16.4).attr("fill", iColors[i]);
    svg.append("text").attr("x", l[1]).attr("y", 1051).attr("font-size", 23.5).text(iLegendTop[i]);
    svg.append("text").attr("x", l[2]).attr("y", 1078.6).attr("font-size", 23.5).text(iLegendBottom[i]);
  });
  [[878, 1046, 962], [1076, 1244.5, 1160.6], [1273.6, 1442, 1356]].forEach((s, i) => {
    svg.append("line").attr("x1", s[0]).attr("x2", s[1]).attr("y1", 1549).attr("y2", 1549).attr("stroke", "#111").attr("stroke-width", 1.6);
    svg.append("text").attr("x", s[2]).attr("y", 1573).attr("text-anchor", "middle").attr("font-size", 23.5).text(iDays[i]);
  });
})();

// ---------- k ----------
(function drawK() {
  let p = barPanel({ means: kMeans, colors: groupColors, points: kPoints, shapes: kShapes, errLow: kErrLow, errHigh: kErrHigh,
    left: 474.5, top: 1615, bottom: 1904.4, first: 510, last: 727, xEnd: 765, barW: 36.7, step: 13.7, gaps: [6, 10, 10, 10, 5.5] });
  rotatedLabels(p.g, kLabels, 17);
  yTitle([["% Enucleation"]], 424, 1760);
  let levels = [1714, 1686, 1657, 1627];
  kBrackets.forEach((b, i) => {
    let x1 = p.x(b[0]), x2 = p.x(b[1]);
    svg.append("line").attr("x1", x1).attr("x2", x2).attr("y1", levels[i]).attr("y2", levels[i]).attr("stroke", "#222").attr("stroke-width", 1.6);
    svg.append("text").attr("x", (x1 + x2) / 2).attr("y", levels[i] - 5).attr("text-anchor", "middle").attr("font-size", 18).text("ns");
  });
})();

// ---------- l ----------
(function drawL() {
  let x = d3.scaleLinear().domain([0, 100]).range([942.7, 1239]);
  let y = d3.scaleLinear().domain([0, 100]).range([1978, 1682]);
  let dots = (xs, ys, color, scale) => xs.forEach((v, i) => {
    let k = lShapes[i];
    svg.append("path").attr("d", d3.symbol().type(symbolOf[k]).size(sizeOf[k] * scale))
      .attr("transform", "translate(" + x(v) + "," + y(ys[i]) + ")").attr("fill", color);
  });
  dots(lUntreatedX, lUntreatedY, "#a7a9ac", 0.8);
  dots(l710X, l710Y, "#3BB54A", 1.2);
  dots(l8eX, l8eY, "#0B6A3B", 1.2);
  svg.append("line").attr("x1", x(lFitX[0])).attr("x2", x(lFitX[1])).attr("y1", y(lFitY[0])).attr("y2", y(lFitY[1]))
    .attr("stroke", "#111").attr("stroke-width", 2.4);
  let ya = svg.append("g").attr("transform", "translate(942.7,0)")
    .call(d3.axisLeft(y).tickValues(pctTicks).tickSize(13).tickSizeOuter(0).tickPadding(1));
  styleAxis(ya, 23);
  let xa = svg.append("g").attr("transform", "translate(0,1978)")
    .call(d3.axisBottom(x).tickValues(pctTicks).tickSize(13).tickSizeOuter(0).tickPadding(5));
  styleAxis(xa, 23);
  yTitle([["%HbF"]], 890, 1827, 24);
  svg.append("text").attr("x", 1091.7).attr("y", 2043).attr("text-anchor", "middle").attr("font-size", 24).text("% -175 A>G");
  svg.append("text").attr("x", 966.7).attr("y", 1696).attr("font-size", 24).text("Slope = 0.89");
  let r2 = svg.append("text").attr("x", 966.7).attr("y", 1725).attr("font-size", 24);
  r2.append("tspan").text("R");
  r2.append("tspan").attr("font-size", 14).attr("dy", -8).text("2");
  r2.append("tspan").attr("dy", 8).text(" = 0.95");
  svg.append("text").attr("x", 966.7).attr("y", 1753).attr("font-size", 24).text("p<0.0001");
  [["Untreated", 1881.6, "#8f8f8f"], ["-175 ABE7.10", 1920, "#39B54A"], ["-175 ABE8e", 1957, "#0A6B3D"]].forEach(l =>
    svg.append("text").attr("x", 1112.7).attr("y", l[1]).attr("font-size", 24).attr("style", "fill:" + l[2]).text(l[0]));
})();

// panel letters
[["a", 3, 53.6], ["b", 438, 53.6], ["c", 879, 53.6], ["d", 1315, 54.7], ["e", 3, 596.5], ["f", 436, 597], ["g", 854, 595],
  ["h", 2, 1152], ["i", 783, 1053], ["j", 2, 1589], ["k", 367, 1590], ["l", 849, 1667]].forEach(d => letter(d[0], d[1], d[2]));
</script>
</body>
</html>
